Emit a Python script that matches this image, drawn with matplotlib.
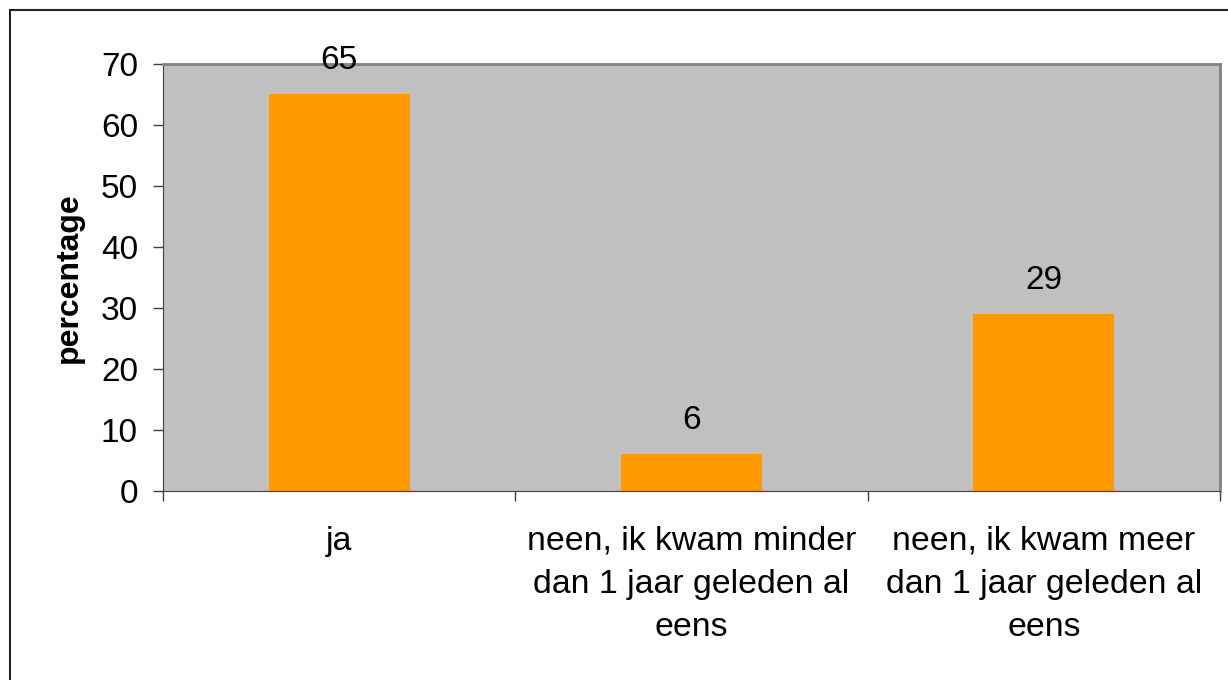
import matplotlib.pyplot as plt
from matplotlib.patches import Rectangle

# data
categories = ['ja',
              'neen, ik kwam minder\ndan 1 jaar geleden al\neens',
              'neen, ik kwam meer\ndan 1 jaar geleden al\neens']
values = [65, 6, 29]
value_labels = ['65', '6', '29']
y_ticks = [0, 10, 20, 30, 40, 50, 60, 70]

plt.rcParams['font.family'] = ['Liberation Sans', 'DejaVu Sans']

fig = plt.figure(figsize=(12.28, 6.8), dpi=100)
ax = fig.add_axes([0.1327, 0.2779, 0.8608, 0.628])
ax.set_facecolor('#C0C0C0')

x = list(range(len(categories)))
ax.bar(x, values, width=0.4, color='#FF9900', zorder=2)
for xi, v, lab in zip(x, values, value_labels):
    ax.annotate(lab, (xi, v), xytext=(0, 24.5), textcoords='offset points',
                ha='center', va='center', fontsize=24)

ax.set_xlim(-0.5, 2.5)
ax.set_ylim(0, 70)
ax.set_yticks(y_ticks)
ax.set_xticks(x)
ax.set_xticklabels(categories, fontsize=24.4, linespacing=1.51)
ax.set_xticks([-0.5, 0.5, 1.5, 2.5], minor=True)
ax.tick_params(axis='x', which='major', length=0, pad=25)
ax.tick_params(axis='x', which='minor', length=7, width=1, color='#404040')
ax.tick_params(axis='y', length=7, width=1, color='#404040', labelsize=24, pad=11)
ax.set_ylabel('percentage', fontsize=23, fontweight='bold', labelpad=12)

for side in ['left', 'bottom']:
    ax.spines[side].set_color('#404040')
for side in ['top', 'right']:
    ax.spines[side].set_color('#808080')
    ax.spines[side].set_linewidth(2)

# outer chart border
fig.patches.append(Rectangle((0.0081, -0.2), 1.2, 1.185, transform=fig.transFigure,
                             fill=False, edgecolor='#222222', linewidth=1.5))

fig.savefig('out.png', dpi=100)
